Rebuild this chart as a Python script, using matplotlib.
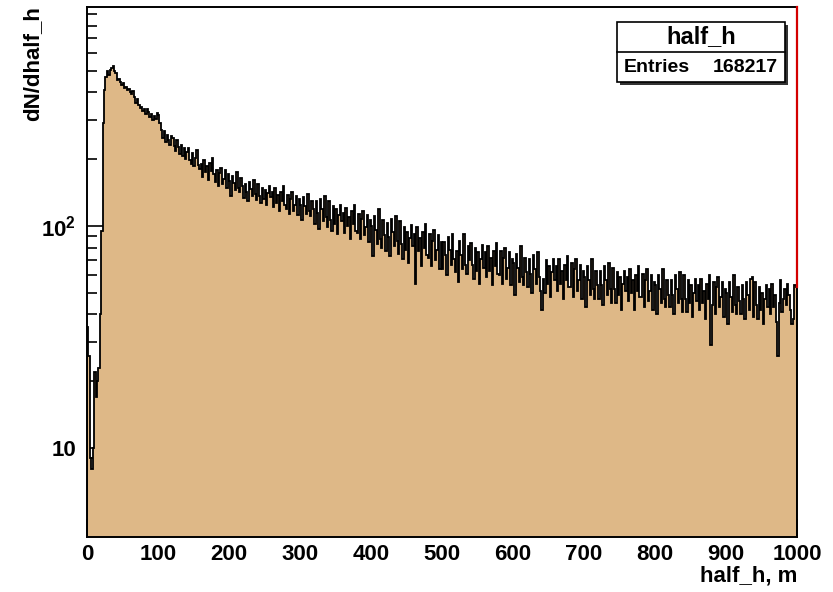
import numpy as np
import matplotlib
matplotlib.use("Agg")
import matplotlib.pyplot as plt
from matplotlib.patches import Rectangle
from matplotlib.ticker import FixedLocator, FixedFormatter, NullFormatter

plt.rcParams['font.family'] = ['Liberation Sans', 'DejaVu Sans']
plt.rcParams['font.weight'] = 'bold'
plt.rcParams['mathtext.fontset'] = 'custom'
plt.rcParams['mathtext.rm'] = 'Liberation Sans:bold'
plt.rcParams['mathtext.bf'] = 'Liberation Sans:bold'
plt.rcParams['mathtext.default'] = 'bf'

# ---- data ----
x_min, x_max, bin_width = 0, 1000, 2
dn_dhalf_h = [
    35, 26, 9, 8, 10, 22, 17, 20, 23, 40,
    95, 290, 410, 470, 500, 480, 505, 515, 525, 500,
    490, 455, 460, 445, 430, 440, 420, 425, 410, 415,
    400, 395, 405, 380, 360, 372, 350, 340, 345, 330,
    335, 320, 338, 325, 310, 318, 300, 312, 305, 322,
    315, 290, 272, 250, 268, 238, 258, 244, 232, 255,
    248, 230, 218, 245, 228, 210, 232, 206, 225, 200,
    215, 224, 198, 190, 214, 186, 202, 220, 188, 180,
    191, 167, 198, 175, 186, 162, 193, 177, 202, 171,
    158, 178, 151, 173, 183, 154, 163, 178, 149, 171,
    159, 137, 168, 156, 145, 175, 148, 142, 164, 151,
    134, 155, 143, 130, 158, 147, 137, 161, 140, 131,
    154, 137, 127, 149, 133, 145, 124, 141, 151, 135,
    142, 122, 149, 127, 138, 117, 143, 130, 151, 125,
    119, 138, 113, 133, 142, 117, 124, 137, 112, 132,
    125, 106, 135, 123, 113, 140, 117, 111, 130, 119,
    102, 129, 115, 97, 133, 119, 105, 137, 110, 99,
    129, 106, 95, 123, 102, 119, 92, 112, 125, 105,
    114, 93, 121, 100, 110, 87, 117, 102, 125, 95,
    93, 113, 87, 107, 117, 91, 99, 112, 85, 106,
    100, 73, 111, 96, 83, 119, 87, 80, 106, 91,
    77, 103, 89, 73, 108, 94, 81, 111, 86, 75,
    105, 83, 71, 99, 78, 94, 68, 88, 101, 81,
    92, 55, 99, 77, 88, 66, 94, 80, 102, 74,
    72, 92, 66, 86, 96, 70, 78, 91, 64, 85,
    64, 85, 74, 60, 89, 78, 67, 92, 71, 62,
    77, 56, 86, 74, 64, 92, 67, 61, 81, 70,
    84, 67, 58, 80, 63, 76, 55, 71, 82, 65,
    76, 59, 81, 63, 72, 54, 77, 66, 84, 61,
    60, 77, 55, 72, 80, 58, 65, 76, 54, 71,
    68, 49, 75, 65, 56, 81, 59, 54, 72, 62,
    53, 71, 61, 50, 74, 64, 55, 76, 59, 51,
    42, 58, 50, 70, 55, 66, 48, 62, 71, 57,
    66, 51, 71, 55, 63, 47, 67, 57, 73, 53,
    53, 68, 48, 64, 71, 51, 57, 67, 47, 63,
    59, 43, 66, 57, 49, 71, 52, 47, 63, 54,
    47, 63, 54, 44, 66, 57, 49, 68, 52, 45,
    65, 52, 45, 62, 49, 59, 42, 55, 63, 51,
    59, 46, 64, 50, 57, 42, 60, 51, 66, 48,
    48, 61, 43, 57, 64, 46, 51, 60, 42, 56,
    54, 40, 60, 52, 45, 64, 47, 43, 57, 49,
    43, 57, 49, 40, 60, 52, 45, 62, 47, 41,
    60, 47, 41, 57, 45, 54, 39, 50, 58, 46,
    54, 42, 58, 45, 51, 38, 55, 47, 60, 29,
    44, 56, 40, 53, 59, 43, 48, 56, 39, 52,
    50, 36, 56, 48, 41, 60, 44, 40, 53, 46,
    40, 54, 47, 38, 56, 49, 42, 58, 59, 39,
    56, 44, 38, 53, 42, 50, 36, 47, 54, 43,
    52, 40, 55, 43, 49, 37, 26, 45, 57, 41,
    47, 52, 44, 55, 49, 42, 36, 38, 54, 53,
]
x_ticks = [0, 100, 200, 300, 400, 500, 600, 700, 800, 900, 1000]
x_tick_labels = [str(t) for t in x_ticks]
y_ticks = [10, 100]
y_tick_labels = ["10", r"$\mathbf{10^{2}}$"]
hist_title = "half_h"
entries_label = "Entries"
entries_value = "168217"
x_title = "half_h, m"
y_title = "dN/dhalf_h"
y_range = (3.97, 970)

edges = np.arange(x_min, x_max + bin_width, bin_width)
values = np.array(dn_dhalf_h, dtype=float)

W, H = 833, 592
fig = plt.figure(figsize=(W / 100, H / 100), dpi=100)
fig.patch.set_facecolor('white')
ax = fig.add_axes([87 / W, 1 - 537 / H, (797 - 87) / W, (537 - 7) / H])
ax.set_yscale('log')

fill_col = '#DEB887'
ax.stairs(values, edges, baseline=1e-3, fill=True, color=fill_col, lw=0, zorder=2)
ax.stairs(values, edges, baseline=1e-3, color='black', lw=1.3, zorder=3)
ax.plot([x_max, x_max], [values[-1], y_range[1]], color='#d40000', lw=1.6,
        zorder=4, clip_on=False)

ax.set_xlim(x_min, x_max)
ax.set_ylim(*y_range)

for s in ax.spines.values():
    s.set_linewidth(1.4)
    s.set_color('black')

ax.xaxis.set_major_locator(FixedLocator(x_ticks))
ax.xaxis.set_major_formatter(FixedFormatter(x_tick_labels))
ax.xaxis.set_minor_locator(FixedLocator(np.arange(x_min, x_max + 1, 20)))
minor_y = [v * d for d in (1, 10, 100) for v in range(2, 10)]
ax.yaxis.set_major_locator(FixedLocator(y_ticks))
ax.yaxis.set_major_formatter(FixedFormatter(y_tick_labels))
ax.yaxis.set_minor_locator(FixedLocator(minor_y))
ax.yaxis.set_minor_formatter(NullFormatter())

ax.tick_params(axis='both', which='both', direction='in', top=False, right=False,
               width=1.2, colors='black', zorder=5)
ax.tick_params(axis='x', which='major', length=13, pad=5, labelsize=16)
ax.tick_params(axis='x', which='minor', length=7)
ax.tick_params(axis='y', which='major', length=14, pad=8, labelsize=16)
ax.tick_params(axis='y', which='minor', length=7)
for lab in ax.get_xticklabels() + ax.get_yticklabels():
    lab.set_fontweight('bold')

# axis titles (ROOT style: at the ends of the axes)
fig.text(797 / W, 1 - 576 / H, x_title, ha='right', va='center',
         fontsize=16, fontweight='bold')
fig.text(33 / W, 1 - 6 / H, y_title, ha='center', va='top', rotation=90,
         fontsize=16, fontweight='bold')

# stat box
bx0, bx1, by0, by1, bdiv = 617, 785, 22, 82, 52
def fr(x, y):
    return x / W, 1 - y / H
sh = 3
fig.patches.append(Rectangle(fr(bx0 + sh, by1 + sh), (bx1 - bx0) / W, (by1 - by0) / H,
                             transform=fig.transFigure, facecolor='#333333',
                             edgecolor='none', zorder=10))
fig.patches.append(Rectangle(fr(bx0, by1), (bx1 - bx0) / W, (by1 - by0) / H,
                             transform=fig.transFigure, facecolor='white',
                             edgecolor='black', lw=1.2, zorder=11))
fig.lines.append(plt.Line2D([bx0 / W, bx1 / W], [1 - bdiv / H, 1 - bdiv / H],
                            transform=fig.transFigure, color='black', lw=1.2, zorder=12))
fig.text((bx0 + bx1) / 2 / W, 1 - 37 / H, hist_title, ha='center', va='center',
         fontsize=17, fontweight='bold', zorder=13)
fig.text(624 / W, 1 - 68 / H, entries_label, ha='left', va='center',
         fontsize=14, fontweight='bold', zorder=13)
fig.text(778 / W, 1 - 68 / H, entries_value, ha='right', va='center',
         fontsize=14, fontweight='bold', zorder=13)

fig.savefig('out.png', dpi=100, facecolor='white')
